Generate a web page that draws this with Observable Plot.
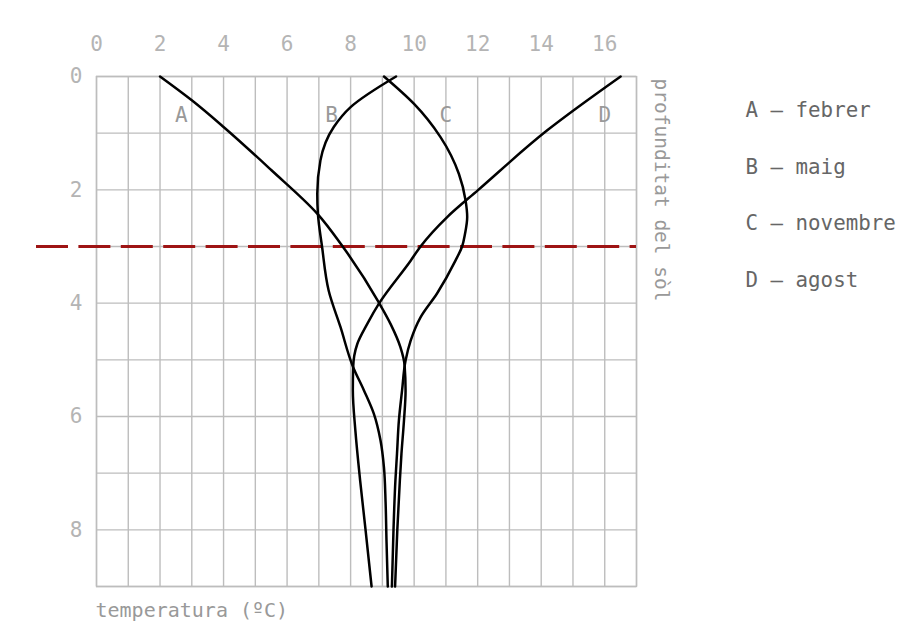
<!DOCTYPE html>
<html>
<head>
<meta charset="utf-8">
<script src="https://cdn.jsdelivr.net/npm/d3@7"></script>
<script src="https://cdn.jsdelivr.net/npm/@observablehq/plot@0.6"></script>
<style>
  html, body { margin: 0; padding: 0; background: #fff; }
</style>
</head>
<body>
<div id="chart"></div>
<script>
// Temperature (ºC) vs soil depth, per month
const seriesNames = ["A", "B", "C", "D"];
const febrerT = [2.0, 3.0, 4.0, 5.5, 6.95, 7.75, 8.9, 9.26, 9.57, 9.7, 9.73, 9.68, 9.6, 9.55, 9.47, 9.4];
const febrerD = [0, 0.42, 0.89, 1.65, 2.42, 3.0, 4.0, 4.37, 4.78, 5.1, 5.54, 6.07, 6.66, 7.13, 8.0, 9];
const maigT = [9.43, 8.0, 7.47, 7.05, 6.95, 6.97, 7.1, 7.31, 7.68, 8.08, 8.42, 8.73, 8.94, 9.05, 9.1, 9.13, 9.17];
const maigD = [0, 0.54, 0.89, 1.48, 2.07, 2.42, 3.0, 3.78, 4.42, 5.13, 5.54, 5.95, 6.42, 6.9, 7.5, 8.2, 9];
const novembreT = [9.05, 9.99, 10.83, 11.41, 11.62, 11.67, 11.6, 11.51, 11.3, 10.72, 10.2, 9.89, 9.73, 9.62, 9.52, 9.46, 9.41, 9.35, 9.3];
const novembreD = [0, 0.48, 1.07, 1.72, 2.19, 2.48, 2.78, 3.0, 3.25, 3.83, 4.25, 4.66, 5.01, 5.54, 6.07, 6.66, 7.13, 8.0, 9];
const agostT = [16.5, 14.19, 12.02, 11.04, 10.2, 9.89, 8.9, 8.52, 8.21, 8.08, 8.07, 8.15, 8.3, 8.47, 8.66];
const agostD = [0, 0.95, 2.0, 2.48, 3.0, 3.25, 4.0, 4.37, 4.72, 5.13, 5.54, 6.25, 7.13, 8.0, 9];

const labelTemps = [2.67, 7.4, 11.0, 16.0];
const labelDepth = 0.69;
const legendLabels = ["A – febrer", "B – maig", "C – novembre", "D – agost"];
const xTicks = [0, 2, 4, 6, 8, 10, 12, 14, 16];
const yTicks = [0, 2, 4, 6, 8];
const thresholdDepth = [3];
const xLabel = "temperatura (ºC)";
const yLabel = "profunditat del sòl";

const allT = [febrerT, maigT, novembreT, agostT];
const allD = [febrerD, maigD, novembreD, agostD];
const points = [];
allT.forEach((ts, i) => ts.forEach((t, j) => points.push({series: seriesNames[i], t, d: allD[i][j]})));
const curveLabels = seriesNames.map((s, i) => ({s, t: labelTemps[i], d: labelDepth}));

const chart = Plot.plot({
  width: 898,
  height: 639,
  marginLeft: 96,
  marginTop: 76,
  marginRight: 262,
  marginBottom: 53,
  style: {fontFamily: "'DejaVu Sans Mono', monospace", color: "#aaa", background: "#fff"},
  x: {domain: [0, 17]},
  y: {domain: [0, 9], reverse: true},
  marks: [
    Plot.gridX({interval: 1, stroke: "#bdbdbd", strokeOpacity: 1, strokeWidth: 1.4}),
    Plot.gridY({interval: 1, stroke: "#bdbdbd", strokeOpacity: 1, strokeWidth: 1.4}),
    Plot.frame({stroke: "#bdbdbd", strokeWidth: 1.4}),
    Plot.axisX({anchor: "top", ticks: xTicks, tickSize: 0, tickPadding: 26, fontSize: 21, label: null, fill: "#b4b4b4"}),
    Plot.axisY({anchor: "left", ticks: yTicks, tickSize: 0, tickPadding: 14, fontSize: 21, label: null, fill: "#b4b4b4"}),
    Plot.ruleY(thresholdDepth, {stroke: "#9e1414", strokeWidth: 3, strokeDasharray: "32,10.4", insetLeft: -60}),
    Plot.line(points, {x: "t", y: "d", z: "series", curve: "monotone-y", stroke: "#000", strokeWidth: 2.5}),
    Plot.text(curveLabels, {x: "t", y: "d", text: "s", fontSize: 21, fill: "#999"}),
    Plot.text([xLabel], {frameAnchor: "bottom-left", dy: 30, dx: -1, textAnchor: "start", fontSize: 20, fill: "#999"}),
    Plot.text([yLabel], {frameAnchor: "top-right", dx: 32, dy: 2, rotate: 90, textAnchor: "start", fontSize: 19.5, fill: "#999"}),
    Plot.text([legendLabels.join("\n")], {frameAnchor: "top-right", dx: 109, dy: 0, textAnchor: "start", lineHeight: 2.73, fontSize: 20.8, fill: "#666"})
  ]
});
document.getElementById("chart").appendChild(chart);
</script>
</body>
</html>
